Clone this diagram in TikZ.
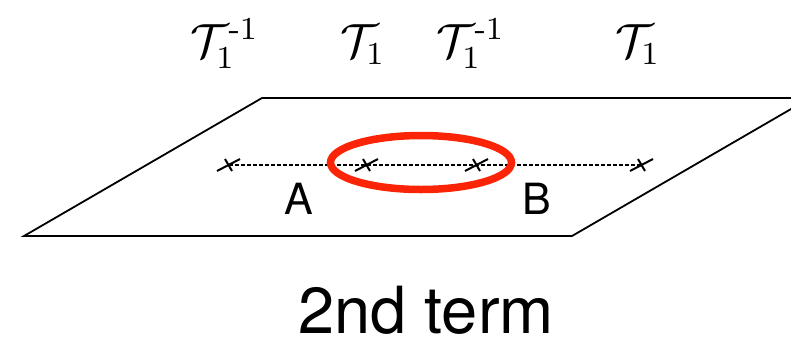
\documentclass[tikz,border=0pt]{standalone}
\usepackage{amsmath}
\usepackage{graphicx}
\usepackage{fontspec}
\setsansfont{TeX Gyre Heros}
\definecolor{loopred}{RGB}{252,36,6}
\newcommand{\opsym}[1]{\scalebox{4}{$#1$}}
\begin{document}
\begin{tikzpicture}[x=1pt,y=-1pt,
  plane/.style={line width=1.8pt, line join=miter},
  chain/.style={line width=2.4pt, dash pattern=on 3.5pt off 2.5pt},
  crossline/.style={line width=2pt},
  loopline/.style={line width=7.5pt, draw=loopred},
  oplabel/.style={inner sep=0pt, anchor=base west, font=\fontsize{12}{14}\selectfont},
  regionlabel/.style={inner sep=0pt, anchor=base, font=\sffamily\fontsize{43}{50}\selectfont},
  titlelabel/.style={inner sep=0pt, anchor=base, font=\sffamily\fontsize{65}{70}\selectfont}]
\useasboundingbox (0,0) rectangle (791,338);
\clip (0,0) rectangle (791,338);
% plane
\coordinate (bl) at (24,236);
\coordinate (br) at (572,236);
\coordinate (tr) at (810,98);
\coordinate (tl) at (262,98);
\draw[plane] (bl) -- (br) -- (tr) -- (tl) -- cycle;
% chain of operators
\coordinate (p1) at (229,165);
\coordinate (p2) at (367,165);
\coordinate (p3) at (477,165);
\coordinate (p4) at (642,165);
\draw[chain] (p1) -- (p4);
\foreach \p in {p1,p2,p3,p4}{
  \draw[crossline] ([shift={(-12,6)}]\p) -- ([shift={(11,-6)}]\p);
  \draw[crossline] ([shift={(-4,-6)}]\p) -- ([shift={(3,6)}]\p);
}
% loop
\coordinate (lc) at (421,162.5);
\draw[loopline] (lc) ellipse [x radius=90.5pt, y radius=27pt];
% labels
\node[oplabel] (t1) at (190,57) {\opsym{\mathcal{T}_1^{\text{-}1}}};
\node[oplabel] (t2) at (340,57) {\opsym{\mathcal{T}_1}};
\node[oplabel] (t3) at (436,57) {\opsym{\mathcal{T}_1^{\text{-}1}}};
\node[oplabel] (t4) at (615,57) {\opsym{\mathcal{T}_1}};
\node[regionlabel] (la) at (299,214) {A};
\node[regionlabel] (lb) at (537,214) {B};
\node[titlelabel] (title) at (426,333) {2nd term};
\end{tikzpicture}
\end{document}
